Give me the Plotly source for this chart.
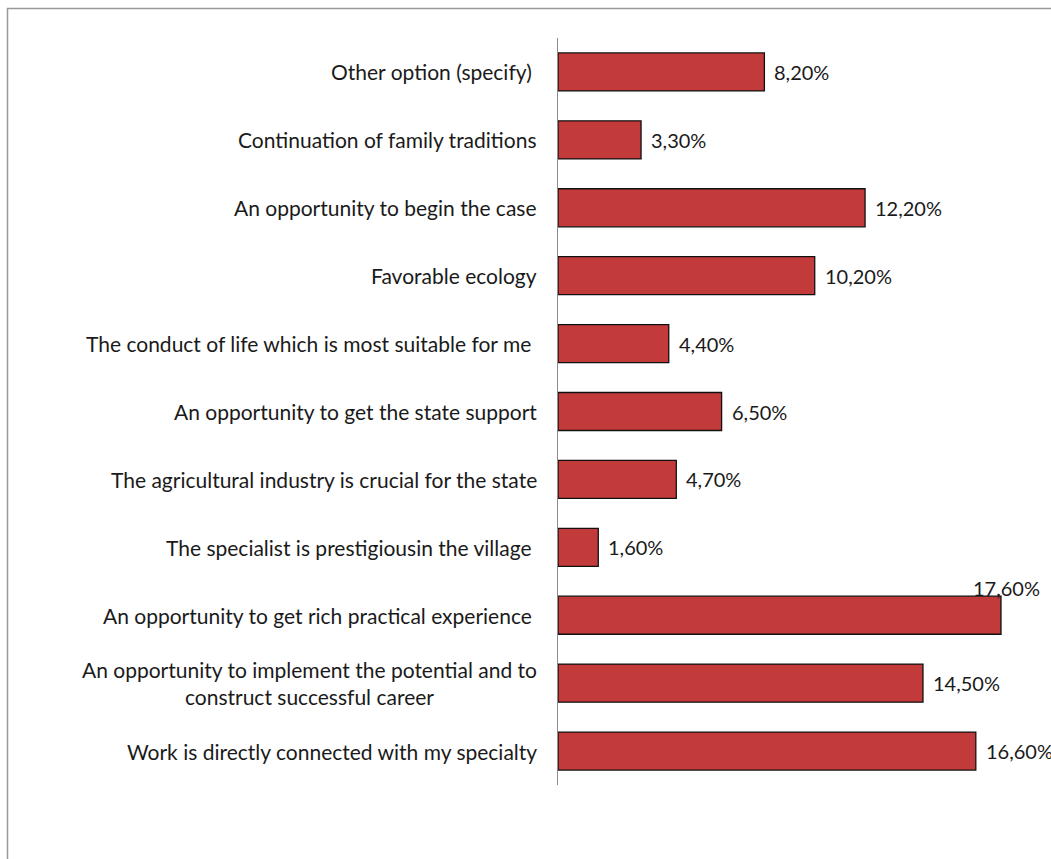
import plotly.graph_objects as go

categories = [
    "Work is directly connected with my specialty",
    "An opportunity to implement the potential and to<br>construct successful career",
    "An opportunity to get rich practical experience ",
    "The specialist is prestigiousin the village ",
    "The agricultural industry is crucial for the state",
    "An opportunity to get the state support",
    "The conduct of life which is most suitable for me ",
    "Favorable ecology",
    "An opportunity to begin the case",
    "Continuation of family traditions",
    "Other option (specify) ",
]
values = [16.6, 14.5, 17.6, 1.6, 4.7, 6.5, 4.4, 10.2, 12.2, 3.3, 8.2]
value_labels = ["16,60%", "14,50%", "17,60%", "1,60%", "4,70%", "6,50%",
                "4,40%", "10,20%", "12,20%", "3,30%", "8,20%"]

FONT = "Lato"
FS_CAT = 21
FS_VAL = 20
W, H = 1051, 859
L, R, T, B = 558, 0, 38, 74
pw, ph = W - L - R, H - T - B

fig = go.Figure()
fig.add_trace(go.Bar(
    y=categories, x=values, orientation="h",
    marker=dict(color="#c23b3a", line=dict(color="#111111", width=1.3)),
    width=0.56, hoverinfo="skip",
))

ann = []
for c, v, t in zip(categories, values, value_labels):
    if v > 17:
        ann.append(dict(x=v, y=c, xref="x", yref="y", text=t, showarrow=False,
                        xanchor="center", yanchor="middle", xshift=6, yshift=27,
                        font=dict(family=FONT, size=FS_VAL, color="#1a1a1a")))
    else:
        ann.append(dict(x=v, y=c, xref="x", yref="y", text=t, showarrow=False,
                        xanchor="left", yanchor="middle", xshift=8,
                        font=dict(family=FONT, size=FS_VAL, color="#1a1a1a")))
    ann.append(dict(x=0, y=c, xref="x", yref="y", text=c, showarrow=False,
                    xanchor="right", yanchor="middle", xshift=-19, align="center",
                    font=dict(family=FONT, size=FS_CAT, color="#1a1a1a")))

shapes = [dict(type="rect", xref="paper", yref="paper",
               x0=(7.5 - L) / pw, x1=1.2, y0=-0.3, y1=(H - B - 8.5) / ph,
               line=dict(color="#999999", width=1.5), fillcolor="rgba(0,0,0,0)",
               layer="below")]

fig.update_layout(
    width=W, height=H,
    margin=dict(l=L, r=R, t=T, b=B, pad=0),
    paper_bgcolor="white", plot_bgcolor="white",
    showlegend=False,
    annotations=ann, shapes=shapes,
    font=dict(family=FONT, size=FS_VAL, color="#1a1a1a"),
    xaxis=dict(range=[0, pw / 25.17], visible=False, fixedrange=True),
    yaxis=dict(type="category", categoryorder="array", categoryarray=categories,
               showticklabels=False, showline=True, linecolor="#8c8c8c",
               linewidth=1, ticks="", showgrid=False, zeroline=False,
               range=[-0.5, 10.5], fixedrange=True),
)

fig.write_html("out.html")
